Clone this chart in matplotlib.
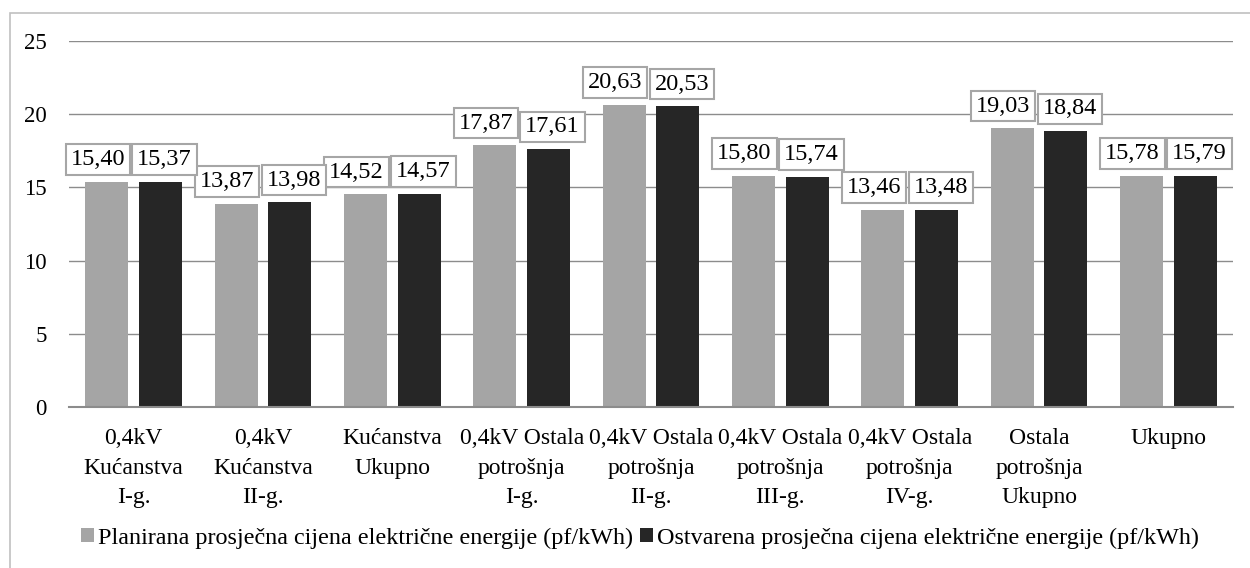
import numpy as np
import matplotlib
matplotlib.use('Agg')
import matplotlib.pyplot as plt
from matplotlib.patches import Rectangle

categories = ['0,4kV\nKućanstva\nI-g.', '0,4kV\nKućanstva\nII-g.', 'Kućanstva\nUkupno',
              '0,4kV Ostala\npotrošnja\nI-g.', '0,4kV Ostala\npotrošnja\nII-g.',
              '0,4kV Ostala\npotrošnja\nIII-g.', '0,4kV Ostala\npotrošnja\nIV-g.',
              'Ostala\npotrošnja\nUkupno', 'Ukupno']
planned = [15.40, 13.87, 14.52, 17.87, 20.63, 15.80, 13.46, 19.03, 15.78]
actual = [15.37, 13.98, 14.57, 17.61, 20.53, 15.74, 13.48, 18.84, 15.79]
series_names = ['Planirana prosječna cijena električne energije (pf/kWh)',
                'Ostvarena prosječna cijena električne energije (pf/kWh)']
yticks = [0, 5, 10, 15, 20, 25]

plt.rcParams['font.family'] = 'Liberation Serif'
plt.rcParams['font.size'] = 16.5

fig = plt.figure(figsize=(12.5, 5.68), dpi=100)
ax = fig.add_axes([69 / 1250, 1 - 407 / 568, (1233 - 69) / 1250, (407 - 41) / 568])

# outer chart border
fig.patches.append(Rectangle((10 / 1250, -0.1), 1.2, 1 - 13 / 568 + 0.1,
                             transform=fig.transFigure, fill=False,
                             edgecolor='#c0c0c0', lw=1.2))

x = np.arange(len(categories))
w = 0.333
off = 0.207
b1 = ax.bar(x - off, planned, w, color='#a5a5a5', label=series_names[0], zorder=3)
b2 = ax.bar(x + off, actual, w, color='#262626', label=series_names[1], zorder=3)

# labels nudged apart a little so the boxes don't overlap (like excel does)
box = dict(boxstyle='square,pad=0.2', fc='white', ec='#a6a6a6', lw=1.5)
for bars, vals, dx in ((b1, planned, -6.5), (b2, actual, 3)):
    for r, v in zip(bars, vals):
        ax.annotate(('%.2f' % v).replace('.', ','),
                    (r.get_x() + r.get_width() / 2, v),
                    xytext=(dx, 8.5), textcoords='offset points',
                    ha='center', va='bottom', bbox=box, zorder=4, fontsize=17.5)

ax.set_xlim(-0.5, len(categories) - 0.5)
ax.set_ylim(0, 25)
ax.set_yticks(yticks)
ax.set_xticks(x)
ax.set_xticklabels(categories, linespacing=1.55, fontsize=17)
ax.tick_params(axis='both', length=0)
ax.tick_params(axis='y', pad=16)
ax.tick_params(axis='x', pad=15)
ax.grid(axis='y', color='#8c8c8c', lw=1, zorder=0)
for s in ['top', 'right', 'left']:
    ax.spines[s].set_visible(False)
ax.spines['bottom'].set_color('#8c8c8c')
ax.spines['bottom'].set_linewidth(1.5)
ax.spines['bottom'].set_zorder(5)

fig.legend(loc='center', bbox_to_anchor=(640 / 1250, 1 - 538 / 568), ncol=2,
           frameon=False, handlelength=0.55, handleheight=0.55,
           handletextpad=0.15, columnspacing=0.3, borderpad=0, fontsize=17.4)

fig.savefig('out.png', dpi=100)
